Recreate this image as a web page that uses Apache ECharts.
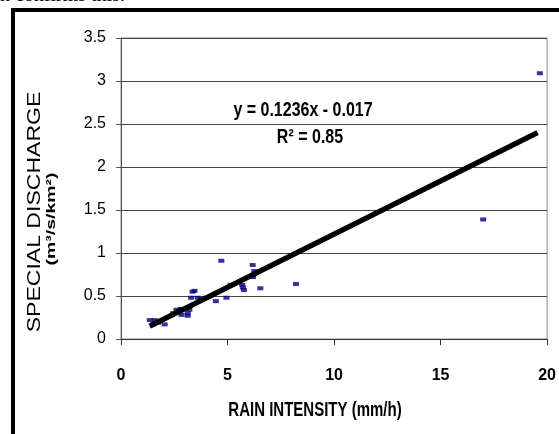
<!DOCTYPE html>
<html>
<head>
<meta charset="utf-8">
<script src="https://cdn.jsdelivr.net/npm/echarts@6/dist/echarts.min.js"></script>
<style>
  html, body { margin: 0; padding: 0; background: #fff; }
  #main { width: 559px; height: 434px; }
</style>
</head>
<body>
<div id="main"></div>
<script>
// rain intensity (mm/h) and special discharge (m3/s/km2)
var rainX = [1.35, 1.59, 1.51, 1.74, 2.05, 2.44, 2.6, 2.76, 2.84, 2.8, 3.13, 3.21, 3.13, 3.29, 3.36,
  3.45, 3.6, 3.75, 3.98, 4.45, 4.71, 4.95, 5.15, 5.69, 5.72, 5.77, 6.18, 6.26, 6.2, 6.54, 8.21, 17.0, 19.66];
var dischargeY = [0.22, 0.22, 0.17, 0.19, 0.17, 0.30, 0.34, 0.32, 0.28, 0.35, 0.30, 0.34, 0.27, 0.48, 0.55,
  0.56, 0.48, 0.46, 0.48, 0.44, 0.91, 0.48, 0.63, 0.63, 0.60, 0.57, 0.86, 0.79, 0.72, 0.59, 0.64, 1.39, 3.09];
// trend line end points
var trendX = [1.35, 19.55];
var trendY = [0.15, 2.40];
var eqText = 'y = 0.1236x - 0.017';
var r2Text = 'R² = 0.85';

var sans = "'Liberation Sans', Arial, sans-serif";

var points = rainX.map(function (x, i) { return [x, dischargeY[i]]; });
var trend = trendX.map(function (x, i) { return [x, trendY[i]]; });

var mychart = echarts.init(document.getElementById('main'));
var option = {
  backgroundColor: '#fff',
  animation: false,
  grid: {
    left: 121, right: 9, top: 38, bottom: 95,
    show: true, borderColor: '#8a8a8a', borderWidth: 1
  },
  xAxis: {
    type: 'value',
    min: 0, max: 20, interval: 5,
    axisLine: { lineStyle: { color: '#333', width: 1 } },
    axisTick: { show: true, length: 6, lineStyle: { color: '#333' } },
    axisLabel: { margin: 29, fontFamily: sans, fontWeight: 'bold', fontSize: 16, color: '#000' },
    splitLine: { show: false }
  },
  yAxis: {
    type: 'value',
    min: 0, max: 3.5, interval: 0.5,
    axisLine: { show: true, lineStyle: { color: '#555', width: 1 } },
    axisTick: { show: true, length: 5, lineStyle: { color: '#555' } },
    axisLabel: { margin: 15, fontFamily: sans, fontSize: 16, color: '#000' },
    splitLine: { show: true, lineStyle: { color: '#444', width: 1 } }
  },
  series: [
    {
      type: 'scatter',
      data: points,
      symbol: 'rect',
      symbolSize: [6, 4],
      itemStyle: { color: '#000080' },
      z: 2
    },
    {
      type: 'line',
      data: trend,
      showSymbol: false,
      lineStyle: { color: '#000', width: 5.5 },
      z: 3
    }
  ],
  graphic: [
    {
      type: 'text', left: 0, top: -14,
      style: { text: 'n confirms this.', font: "20px 'Liberation Serif', 'Times New Roman', serif", fill: '#000' }
    },
    {
      type: 'rect',
      shape: { x: 13, y: 10, width: 600, height: 500 },
      style: { fill: 'none', stroke: '#000', lineWidth: 4 }
    },
    {
      type: 'text', x: 35, y: 212, rotation: Math.PI / 2, scaleX: 1.28,
      style: { text: 'SPECIAL DISCHARGE', font: '18px ' + sans, fill: '#000',
        textAlign: 'center', textVerticalAlign: 'middle' }
    },
    {
      type: 'text', x: 51, y: 219, rotation: Math.PI / 2, scaleX: 1.5,
      style: { text: '(m³/s/km²)', font: 'bold 13px ' + sans, fill: '#000',
        textAlign: 'center', textVerticalAlign: 'middle' }
    },
    {
      type: 'text', x: 303, y: 110, scaleX: 0.8,
      style: { text: eqText, font: 'bold 20px ' + sans, fill: '#000', textAlign: 'center', textVerticalAlign: 'middle' }
    },
    {
      type: 'text', x: 310, y: 137, scaleX: 0.8,
      style: { text: r2Text, font: 'bold 20px ' + sans, fill: '#000', textAlign: 'center', textVerticalAlign: 'middle' }
    },
    {
      type: 'text', x: 315, y: 410, scaleY: 1.35,
      style: { text: 'RAIN INTENSITY (mm/h)', font: 'bold 15px ' + sans, fill: '#000',
        textAlign: 'center', textVerticalAlign: 'middle' }
    }
  ]
};
mychart.setOption(option);
</script>
</body>
</html>
